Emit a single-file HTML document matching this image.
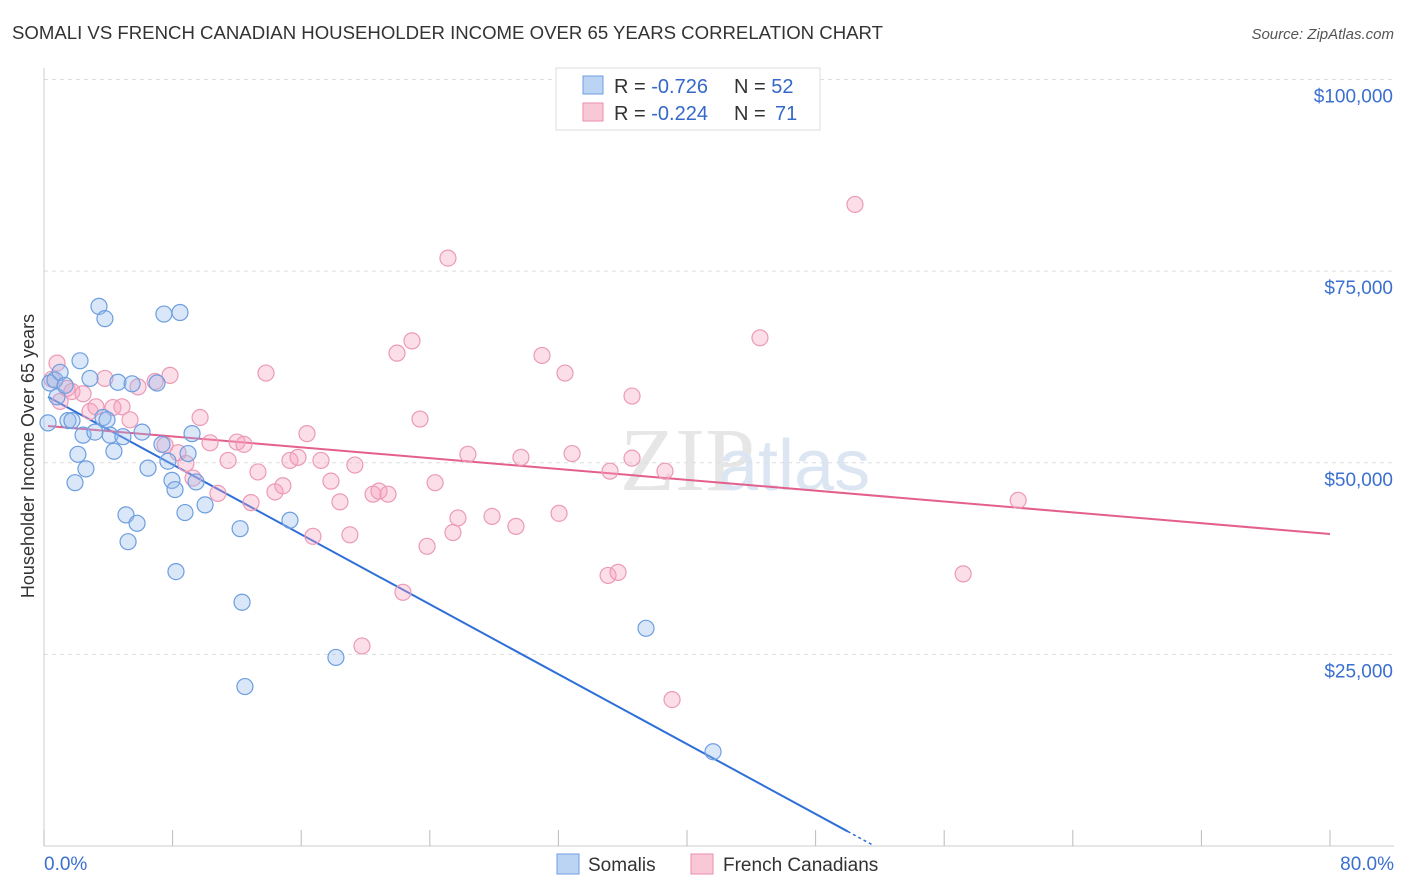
<!DOCTYPE html>
<html><head><meta charset="utf-8"><style>
body{margin:0;background:#fff;font-family:"Liberation Sans",sans-serif;}
svg{display:block}
</style></head><body>
<svg id="chart" width="1406" height="892">
<text x="12" y="39" font-size="18" fill="#333" textLength="871" lengthAdjust="spacingAndGlyphs">SOMALI VS FRENCH CANADIAN HOUSEHOLDER INCOME OVER 65 YEARS CORRELATION CHART</text>
<text x="1394" y="39" font-size="15" fill="#555" text-anchor="end" font-style="italic">Source: ZipAtlas.com</text>
<text x="620" y="490" font-size="90" fill="#e6e6e6" font-family="Liberation Serif,serif">ZIP</text>
<text x="718" y="490" font-size="72" fill="#dce6f3">atlas</text>
<g id="grid"></g>
<g id="axes"></g>
<g id="lines"></g>
<g id="pts"></g>
<text transform="translate(34,456) rotate(-90)" font-size="18" fill="#333" text-anchor="middle">Householder Income Over 65 years</text>
<g>
<rect x="556" y="68" width="264" height="62" fill="#fff" stroke="#ddd"/>
<rect x="583" y="76" width="20" height="18" fill="#bcd4f4" stroke="#6d9ee0"/>
<text x="614" y="93" font-size="20" fill="#333">R = <tspan fill="#3568c8">-0.726</tspan></text>
<text x="734" y="93" font-size="20" fill="#333">N = <tspan fill="#3568c8">52</tspan></text>
<rect x="583" y="103" width="20" height="18" fill="#f9c8d7" stroke="#eb8fae"/>
<text x="614" y="120" font-size="20" fill="#333">R = <tspan fill="#3568c8">-0.224</tspan></text>
<text x="734" y="120" font-size="20" fill="#333">N = <tspan x="775" fill="#3568c8">71</tspan></text>
</g>
<g>
<rect x="557" y="854" width="22" height="20" fill="#bcd4f4" stroke="#6d9ee0"/>
<text x="588" y="871" font-size="19" fill="#333">Somalis</text>
<rect x="691" y="854" width="22" height="20" fill="#f9c8d7" stroke="#eb8fae"/>
<text x="723" y="871" font-size="19" fill="#333">French Canadians</text>
</g>
</svg>
<script>
const NS="http://www.w3.org/2000/svg";
const yTicks=[25000,50000,75000,100000];
const yTickLabels=["$25,000","$50,000","$75,000","$100,000"];
const somaliX=[0.37,0.68,1.0,0.25,0.81,1.31,1.49,1.74,1.93,2.11,2.24,2.43,2.61,2.86,3.17,3.42,3.67,3.79,3.92,4.11,4.35,4.6,4.91,5.1,5.23,5.48,5.79,6.1,6.47,7.03,7.46,7.34,7.71,7.96,8.15,8.21,8.46,8.77,8.96,9.21,9.46,10.02,12.2,12.32,12.5,15.3,18.16,37.45,41.62];
const somaliY=[60.4,60.8,61.8,55.2,58.6,60.1,55.5,55.5,47.4,51.1,63.3,53.6,49.2,61.0,54.0,70.4,55.9,68.8,55.6,53.6,51.5,60.5,53.4,43.2,39.7,60.3,42.1,54.0,49.3,60.4,69.4,52.4,50.2,47.7,46.5,35.8,69.6,43.5,51.2,53.8,47.5,44.5,41.4,31.8,20.8,42.5,24.6,28.4,12.3];
const frenchX=[0.81,0.5,1.0,1.43,1.74,2.43,2.86,3.23,3.79,4.29,4.85,5.35,5.85,6.91,7.53,7.84,8.34,8.83,9.27,9.71,10.33,10.82,11.45,12.01,12.44,12.88,13.31,13.81,14.37,14.86,15.3,15.8,16.36,16.73,17.23,17.85,18.41,19.03,19.34,19.78,20.47,20.84,21.4,21.96,22.33,22.89,23.39,23.83,24.33,25.13,25.44,25.75,26.37,27.87,29.36,29.67,30.98,32.04,32.41,32.85,35.09,35.21,35.71,36.58,36.58,38.63,39.07,44.54,50.45,57.18,60.6];
const frenchY=[63.0,60.9,58.0,59.7,59.3,59.0,56.7,57.3,61.0,57.2,57.3,55.6,59.9,60.6,52.3,61.4,51.3,49.9,48.0,55.9,52.6,46.0,50.3,52.7,52.4,44.8,48.8,61.7,46.2,47.0,50.3,50.7,53.8,40.4,50.3,47.6,44.9,40.6,49.7,26.1,45.9,46.3,45.9,64.3,33.1,65.9,55.7,39.1,47.4,76.7,40.9,42.8,51.1,43.0,41.7,50.7,64.0,43.4,61.7,51.2,35.3,48.9,35.7,50.6,58.7,48.9,19.1,66.3,83.7,35.5,45.1];
const somaliTrend=[0.25,58.6,50.0,1.9];
const frenchTrend=[0.25,54.8,80,40.7];
const X0=44,X1=1330,Y0=846,PX=7.665;
const sx=v=>X0+(X1-X0)*v/80, sy=v=>Y0-v*PX;
function mk(t,a,p){const e=document.createElementNS(NS,t);for(const k in a)e.setAttribute(k,a[k]);p.appendChild(e);return e;}
const grid=document.getElementById('grid'),axes=document.getElementById('axes'),pts=document.getElementById('pts'),lines=document.getElementById('lines');
yTicks.forEach((t,i)=>{
 const g=mk('line',{x1:44,x2:1394,y1:sy(t/1000),y2:sy(t/1000),stroke:'#ddd','stroke-dasharray':'4,4'},grid);
 
 
 const tx=mk('text',{x:1393,y:sy(t/1000)+23,'font-size':19,fill:'#3b6fd0','text-anchor':'end'},axes);
 tx.textContent=yTickLabels[i];
 
 
});
const ax=mk('line',{x1:44,x2:1394,y1:846,y2:846,stroke:'#ccc'},axes);


const ay=mk('line',{x1:44,x2:44,y1:68,y2:846,stroke:'#ccc'},axes);


for(let i=0;i<=10;i++){const l=mk('line',{x1:sx(i*8),x2:sx(i*8),y1:830,y2:846,stroke:'#bbb'},axes);
 
 }
const xl=mk('text',{x:44,y:870,'font-size':19,fill:'#3b6fd0'},axes);xl.textContent='0.0%';


const xr=mk('text',{x:1394,y:870,'font-size':19,fill:'#3b6fd0','text-anchor':'end'},axes);xr.textContent='80.0%';


frenchX.forEach((x,i)=>{const c=mk('circle',{cx:sx(x),cy:sy(frenchY[i]),r:8,fill:'rgba(245,160,190,0.35)',stroke:'#eb9ab6','stroke-width':1.2},pts);
 
 });
somaliX.forEach((x,i)=>{const c=mk('circle',{cx:sx(x),cy:sy(somaliY[i]),r:8,fill:'rgba(150,185,235,0.35)',stroke:'#6d9ee0','stroke-width':1.2},pts);
 
 });
const s=somaliTrend, slope=(s[3]-s[1])/(s[2]-s[0]);
const sl=mk('line',{x1:sx(s[0]),y1:sy(s[1]),x2:sx(s[2]),y2:sy(s[3]),stroke:'#2f6fd8','stroke-width':2},lines);


const sd=mk('line',{x1:sx(s[2]),y1:sy(s[3]),x2:sx(51.5),y2:sy(s[3]+slope*1.5),stroke:'#2f6fd8','stroke-width':1.5,'stroke-dasharray':'3,3'},lines);


const f=frenchTrend;
const fl=mk('line',{x1:sx(f[0]),y1:sy(f[1]),x2:sx(f[2]),y2:sy(f[3]),stroke:'#e4608c','stroke-width':2},lines);


</script>
</body></html>
